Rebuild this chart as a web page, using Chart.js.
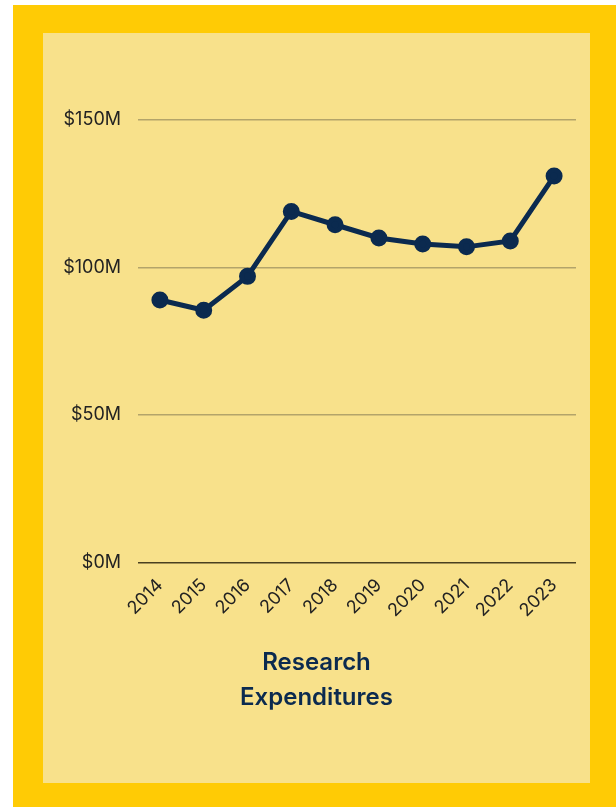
<!DOCTYPE html>
<html>
<head>
<meta charset="utf-8">
<script src="https://cdn.jsdelivr.net/npm/chart.js@4"></script>
<style>
  html, body { margin: 0; padding: 0; background: #ffffff; }
  #outer {
    position: absolute; left: 13px; top: 5px;
    width: 603px; height: 802px;
    background: #FFCB05;
  }
  #panel {
    position: absolute; left: 30px; top: 28px;
    width: 547px; height: 750px;
    background: #F8E18B;
  }
  #chart { display: block; }
</style>
</head>
<body>
<div id="outer">
  <div id="panel">
    <canvas id="chart" width="547" height="750"></canvas>
  </div>
</div>
<script>
  const years = ['2014', '2015', '2016', '2017', '2018', '2019', '2020', '2021', '2022', '2023'];
  const expenditures = [89, 85.5, 97, 119, 114.5, 110, 108, 107, 109, 131]; // $M
  const yTicks = [0, 50, 100, 150];
  const titleLines = ['Research', 'Expenditures'];

  const navy = '#0B2A4F';
  const fontFamily = 'Inter, "Noto Sans", sans-serif';

  const ctx = document.getElementById('chart').getContext('2d');
  new Chart(ctx, {
    type: 'line',
    data: {
      labels: years,
      datasets: [{
        label: 'Research Expenditures',
        data: expenditures,
        borderColor: navy,
        backgroundColor: navy,
        borderWidth: 5,
        pointRadius: 6,
        pointHoverRadius: 6,
        tension: 0,
      }],
    },
    options: {
      responsive: false,
      animation: false,
      layout: {
        padding: { top: 87, right: 14, left: 14, bottom: 68 },
      },
      plugins: {
        legend: { display: false },
        tooltip: { enabled: false },
        title: {
          display: true,
          position: 'bottom',
          text: titleLines,
          color: navy,
          font: { family: fontFamily, size: 24, weight: '600', lineHeight: 1.45 },
          padding: { top: 20, bottom: 0 },
        },
      },
      scales: {
        x: {
          offset: true,
          grid: { display: false },
          border: { display: false },
          ticks: {
            color: '#222',
            maxRotation: 45,
            minRotation: 45,
            padding: 4,
            font: { family: fontFamily, size: 18 },
          },
        },
        y: {
          min: 0,
          max: 150,
          afterBuildTicks: axis => { axis.ticks = yTicks.map(v => ({ value: v })); },
          afterFit: axis => { axis.width = 81; },
          border: { display: false },
          grid: {
            drawTicks: false,
            lineWidth: 1.5,
            color: c => c.tick && c.tick.value === 0 ? '#4A4020' : '#B3A46A',
          },
          ticks: {
            color: '#222',
            padding: 17,
            font: { family: fontFamily, size: 18 },
            callback: v => '$' + v + 'M',
          },
        },
      },
    },
  });
</script>
</body>
</html>
